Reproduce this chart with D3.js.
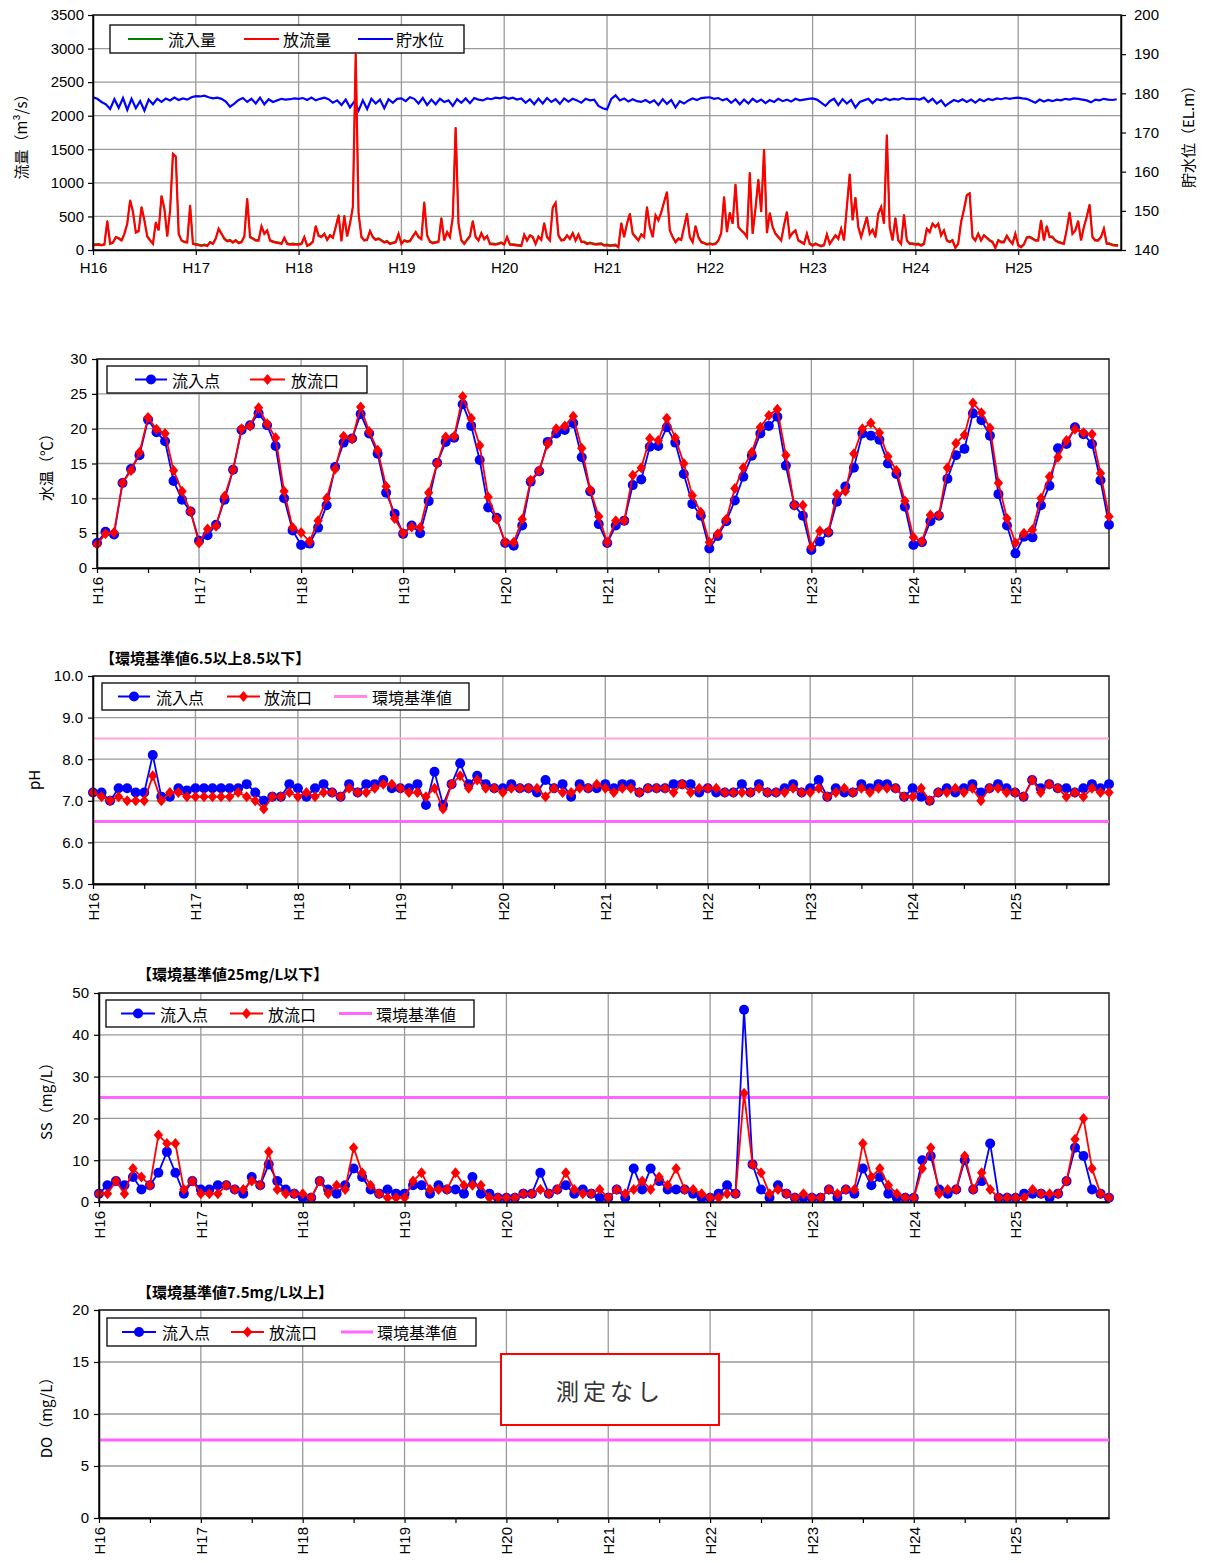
<!DOCTYPE html>
<html>
<head>
<meta charset="utf-8">
<script src="https://cdn.jsdelivr.net/npm/d3@7"></script>
<style>
body { margin: 0; background: #fff; }
</style>
</head>
<body>
<svg id="chart" width="1211" height="1563"></svg>
<script>
var NUM = '"Liberation Sans", Arial, sans-serif';
var JP = '"Noto Sans CJK JP", "Noto Sans CJK SC", sans-serif';

var years = ["H16", "H17", "H18", "H19", "H20", "H21", "H22", "H23", "H24", "H25"];

// daily flow at ~10 day steps (36 per year)
var outflow = [
  70,75,80,70,80,430,90,110,190,170,140,240,390,740,565,260,280,640,440,200,140,90,410,290,805,615,200,590,1430,1390,240,140,115,110,665,90,
  80,70,60,70,60,110,90,170,315,240,165,130,140,110,140,100,115,200,765,190,165,140,140,350,240,290,140,120,110,100,90,180,90,80,85,80,
  80,90,190,60,80,120,355,210,190,240,150,215,180,340,515,130,510,200,390,640,2920,540,190,140,150,280,190,150,165,140,110,125,90,100,115,240,
  90,140,120,130,200,265,190,160,710,215,120,100,110,120,475,140,265,190,490,1825,390,140,90,150,200,430,190,140,250,160,205,90,85,80,90,105,
  80,190,80,75,70,65,60,225,140,215,190,90,200,150,400,190,140,630,700,215,140,150,215,165,250,140,230,120,115,90,100,90,80,85,90,65,
  70,60,65,70,40,400,190,390,540,240,190,140,230,190,640,340,190,515,440,560,715,865,290,190,115,165,150,340,540,190,115,355,190,115,100,80,
  90,80,90,140,250,790,265,555,390,980,340,290,250,190,1155,240,615,1050,565,1500,250,550,340,240,190,140,365,565,190,250,290,140,115,90,240,90,
  65,90,70,55,70,230,90,150,215,165,315,140,640,1130,440,780,340,190,340,490,240,300,190,540,640,390,1715,340,140,475,140,90,525,140,90,90,
  80,85,65,90,315,265,390,340,390,215,290,140,115,140,30,90,415,600,815,840,190,140,240,140,215,180,140,115,30,140,115,115,210,140,90,240,
  70,40,80,180,190,165,140,140,440,140,355,190,190,140,115,100,90,300,560,240,290,430,140,340,490,675,190,140,140,190,315,90,90,70,65,65
];
var inflow = [
  85,90,95,80,95,440,105,120,200,185,155,250,400,750,570,275,290,650,450,215,155,105,420,300,815,620,215,600,1440,1400,255,150,130,125,675,105,
  95,85,75,85,75,125,105,180,325,250,180,145,155,125,155,115,130,215,775,205,180,155,155,360,250,300,155,135,125,115,105,190,105,95,100,95,
  95,105,200,75,95,135,365,225,205,250,165,230,195,350,530,145,520,215,400,650,2925,550,205,155,165,290,205,165,180,155,125,140,105,115,130,250,
  105,150,135,145,215,275,205,175,720,230,135,115,125,135,485,155,275,205,500,1830,400,155,105,165,215,440,205,155,260,175,215,105,100,95,105,120,
  95,200,95,90,85,80,75,235,155,225,205,105,210,165,410,205,155,640,710,230,155,165,225,180,260,155,240,135,130,105,115,105,95,100,105,80,
  85,75,80,85,55,410,205,400,550,255,205,155,240,205,650,350,205,525,450,570,725,870,300,205,130,180,165,350,550,205,130,365,205,130,115,95,
  105,95,105,155,260,800,280,565,400,985,355,300,265,205,1160,255,625,1060,575,1505,265,560,355,255,205,155,375,575,205,265,300,155,130,105,250,105,
  80,105,85,70,85,240,105,165,230,180,325,155,650,1140,450,790,355,205,350,500,255,310,205,550,650,400,1720,355,155,485,155,105,535,155,105,105,
  95,100,80,105,325,280,400,355,400,230,300,155,130,155,45,105,425,610,825,850,205,155,250,155,230,195,155,130,45,155,130,130,220,155,105,250,
  85,55,95,195,205,180,155,155,450,155,365,205,205,155,130,115,105,310,570,255,300,440,155,350,500,685,205,155,155,205,325,105,105,85,80,80
];
// reservoir level (EL.m), 24 per year
var waterLevel = [
  179.0,178.6,177.8,177.2,176.0,178.5,176.3,178.8,175.8,178.6,176.2,178.0,175.6,178.4,177.2,178.6,177.8,178.7,178.2,178.9,178.3,178.7,178.4,179.0,
  179.3,179.2,179.4,179.0,178.7,178.9,178.6,177.9,176.6,177.4,178.3,178.8,177.8,178.6,177.4,178.9,177.2,178.5,177.8,178.2,178.6,178.4,178.5,178.7,
  178.6,178.8,178.3,178.9,178.2,178.6,178.9,178.5,177.6,178.2,177.0,178.4,176.4,177.9,175.6,178.2,176.0,178.6,177.4,178.4,176.2,178.5,177.6,178.6,
  178.7,178.0,179.0,178.6,177.4,178.8,177.0,178.4,177.2,178.6,177.8,178.2,176.8,178.5,177.6,178.7,177.5,178.8,178.4,178.2,178.7,178.5,178.9,178.7,
  179.0,178.6,178.9,178.4,178.7,177.6,178.5,177.2,178.6,177.4,178.8,177.8,178.5,177.3,178.7,177.9,178.6,178.2,177.6,178.6,178.2,178.4,176.8,176.2,
  175.9,178.6,179.5,178.2,178.7,177.9,178.5,178.0,177.8,178.3,177.6,178.2,177.0,178.5,177.3,178.3,176.4,178.0,177.4,178.2,178.7,178.3,178.8,178.9,
  179.0,178.6,178.8,178.2,178.6,177.6,178.5,177.2,178.4,177.4,178.6,177.8,178.4,177.5,178.3,177.8,178.6,178.0,178.4,177.9,178.6,178.2,178.4,178.6,
  178.7,178.4,177.6,176.8,178.0,178.6,177.0,178.5,177.4,178.3,176.4,177.8,178.2,178.6,177.5,178.5,178.2,178.7,178.3,178.6,178.4,178.8,178.5,178.6,
  178.6,178.4,178.9,177.8,178.6,177.4,178.2,176.8,177.6,178.3,177.9,178.5,177.8,178.4,177.6,178.5,178.0,178.6,178.3,178.7,178.5,178.8,178.6,178.8,
  178.9,178.7,178.6,178.1,177.6,178.4,177.9,178.3,178.0,178.4,178.2,178.6,178.4,178.7,178.6,178.4,178.2,177.7,178.4,178.2,178.6,178.4,178.3,178.5
];

// monthly water quality, 12 per year
var tempIn = [
  3.6,5.2,4.8,12.2,14.2,16.2,21.3,19.5,18.2,12.5,9.8,8.1,
  3.9,4.7,6.2,9.8,14.1,19.8,20.5,22.2,20.5,17.5,10.0,5.4,
  3.3,3.5,5.8,9.0,14.5,18.0,18.6,22.1,19.3,16.4,10.8,7.8,
  4.9,6.1,5.0,9.6,15.1,18.1,18.7,23.5,20.4,15.5,8.7,7.2,
  3.6,3.2,6.1,12.4,13.9,18.1,19.3,19.8,20.8,15.9,11.0,6.3,
  3.6,6.1,6.8,11.9,12.7,17.4,17.5,20.2,18.0,13.5,9.2,7.5,
  2.8,4.6,6.7,9.7,13.1,16.1,19.3,20.4,21.7,14.7,9.0,7.5,
  2.6,3.8,5.1,9.5,11.7,14.4,19.3,19.0,18.4,15.0,13.5,8.8,
  3.3,3.7,6.7,7.5,12.8,16.2,17.1,22.2,21.2,19.0,10.6,6.1,
  2.1,4.5,4.4,9.0,11.8,17.2,17.8,20.2,19.2,17.8,12.6,6.2
];
var tempOut = [
  3.4,4.9,5.1,12.2,14.0,16.6,21.6,19.9,19.3,14.0,11.0,8.1,
  3.6,5.6,6.0,10.3,14.1,20.0,20.4,23.0,20.7,18.7,11.0,5.8,
  5.1,3.8,6.8,10.0,14.2,18.9,18.5,23.1,19.6,16.9,11.7,7.1,
  5.0,5.9,5.8,10.8,15.0,18.8,18.9,24.6,21.5,17.6,10.2,7.0,
  3.7,3.7,7.0,12.6,14.0,17.8,20.0,20.4,21.8,17.2,11.2,7.4,
  3.7,6.8,6.8,13.3,14.4,18.6,18.3,21.5,18.7,15.0,10.4,8.0,
  3.7,4.9,7.0,11.4,14.4,16.6,20.2,21.9,22.8,16.2,9.0,9.0,
  3.0,5.3,5.2,10.6,11.0,16.4,20.0,20.8,19.4,16.0,14.0,9.6,
  4.4,3.8,7.6,7.6,14.4,17.9,19.1,23.7,22.3,20.1,12.2,7.1,
  3.6,5.0,5.5,10.0,13.1,15.9,18.3,19.9,19.4,19.2,13.6,7.4
];
var phIn = [
  7.2,7.2,7.0,7.3,7.3,7.2,7.2,8.1,7.1,7.1,7.3,7.25,
  7.3,7.3,7.3,7.3,7.3,7.3,7.4,7.2,7.0,7.1,7.1,7.4,
  7.3,7.1,7.3,7.4,7.2,7.1,7.4,7.2,7.4,7.4,7.5,7.3,
  7.3,7.3,7.4,6.9,7.7,6.9,7.4,7.9,7.4,7.6,7.4,7.3,
  7.3,7.4,7.3,7.3,7.2,7.5,7.3,7.4,7.1,7.4,7.3,7.3,
  7.4,7.3,7.4,7.4,7.2,7.3,7.3,7.3,7.4,7.4,7.4,7.2,
  7.3,7.2,7.2,7.2,7.4,7.2,7.4,7.2,7.2,7.3,7.4,7.2,
  7.3,7.5,7.1,7.3,7.2,7.2,7.4,7.3,7.4,7.4,7.3,7.1,
  7.3,7.1,7.0,7.2,7.3,7.2,7.3,7.4,7.2,7.3,7.4,7.3,
  7.2,7.1,7.5,7.3,7.4,7.3,7.3,7.2,7.3,7.4,7.3,7.4
];
var phOut = [
  7.2,7.1,7.0,7.1,7.0,7.0,7.0,7.6,7.0,7.2,7.2,7.1,
  7.1,7.1,7.1,7.1,7.1,7.2,7.1,7.0,6.8,7.1,7.1,7.2,
  7.1,7.2,7.1,7.2,7.2,7.1,7.3,7.2,7.2,7.3,7.4,7.4,
  7.3,7.2,7.2,7.1,7.3,6.8,7.4,7.6,7.3,7.5,7.3,7.3,
  7.2,7.3,7.3,7.3,7.3,7.1,7.3,7.2,7.2,7.3,7.3,7.4,
  7.3,7.2,7.3,7.3,7.2,7.3,7.3,7.3,7.2,7.4,7.2,7.3,
  7.3,7.3,7.2,7.2,7.2,7.2,7.3,7.2,7.2,7.2,7.3,7.2,
  7.2,7.3,7.1,7.2,7.3,7.2,7.3,7.2,7.3,7.3,7.3,7.1,
  7.1,7.3,7.0,7.2,7.2,7.3,7.2,7.3,7.0,7.3,7.3,7.2,
  7.2,7.1,7.5,7.2,7.4,7.3,7.1,7.2,7.1,7.3,7.2,7.2
];
var ssIn = [
  2,4,5,4,6,3,4,7,12,7,2,5,
  3,3,4,4,3,2,6,4,9,5,3,2,
  1,1,5,3,2,4,8,6,3,2,3,2,
  2,4,4,2,4,3,3,2,6,2,2,1,
  1,1,2,2,7,2,3,4,2,3,2,1,
  1,3,1,8,3,8,5,3,3,3,2,1,
  1,2,4,2,46,9,3,1,4,2,1,1,
  1,1,3,1,3,2,8,4,6,2,1,1,
  1,10,11,3,2,3,10,3,5,14,1,1,
  1,2,2,2,1,2,5,13,11,3,2,1
];
var ssOut = [
  2,2,5,2,8,6,4,16,14,14,3,5,
  2,2,2,4,3,3,5,4,12,3,2,2,
  2,1,5,2,4,3,13,7,4,2,1,1,
  1,5,7,3,3,3,7,4,4,4,1,1,
  1,1,2,2,3,2,3,7,3,2,2,3,
  1,3,2,3,5,3,6,4,8,3,3,2,
  1,1,2,2,26,9,7,2,3,2,1,2,
  1,1,3,2,3,3,14,6,8,4,2,1,
  1,8,13,2,3,3,11,3,7,3,1,1,
  1,1,3,2,2,2,5,15,20,8,2,1
];

var flowTicks = [0, 500, 1000, 1500, 2000, 2500, 3000, 3500];
var levelTicks = [140, 150, 160, 170, 180, 190, 200];
var tempTicks = [0, 5, 10, 15, 20, 25, 30];
var phTicks = [5, 6, 7, 8, 9, 10];
var ssTicks = [0, 10, 20, 30, 40, 50];
var doTicks = [0, 5, 10, 15, 20];
var phStd = [8.5, 6.5];
var ssStd = [25];
var doStd = [7.5];

var svg = d3.select("#chart");

function hGrid(g, vals, y, p) {
  g.selectAll(null).data(vals).enter().append("line")
    .attr("x1", p.left).attr("x2", p.right)
    .attr("y1", function(d) { return y(d); }).attr("y2", function(d) { return y(d); })
    .attr("stroke", "#9a9a9a").attr("stroke-width", 1.3);
}
function vGrid(g, vals, x, p) {
  g.selectAll(null).data(vals).enter().append("line")
    .attr("x1", function(d) { return x(d); }).attr("x2", function(d) { return x(d); })
    .attr("y1", p.top).attr("y2", p.bottom)
    .attr("stroke", "#9a9a9a").attr("stroke-width", 1.3);
}
function frame(g, p) {
  g.append("rect").attr("x", p.left).attr("y", p.top)
    .attr("width", p.right - p.left).attr("height", p.bottom - p.top)
    .attr("fill", "none").attr("stroke", "#222").attr("stroke-width", 1.5);
}
function styleAxis(a) {
  a.selectAll("text").attr("font-family", NUM).attr("font-size", 15).attr("fill", "#000");
  a.select(".domain").attr("stroke", "#000").attr("stroke-width", 1.5);
  a.selectAll(".tick line").attr("stroke", "#000").attr("stroke-width", 1.2);
}
function yTitle(x, y, txt) {
  svg.append("text").attr("transform", "translate(" + x + "," + y + ") rotate(-90)")
    .attr("text-anchor", "middle").attr("dominant-baseline", "central")
    .attr("font-family", JP).attr("font-size", 15).attr("fill", "#000").text(txt);
}
function diamond(r) {
  return "M0," + (-r) + "L" + (r * 0.85) + ",0L0," + r + "L" + (-r * 0.85) + ",0Z";
}
function legendBox(b) {
  var g = svg.append("g");
  g.append("rect").attr("x", b.x).attr("y", b.y).attr("width", b.w).attr("height", b.h)
    .attr("fill", "#fff").attr("stroke", "#000").attr("stroke-width", 1.3);
  var cy = b.y + b.h / 2;
  b.items.forEach(function(it) {
    g.append("line").attr("x1", it.x1).attr("x2", it.x2).attr("y1", cy).attr("y2", cy)
      .attr("stroke", it.color).attr("stroke-width", it.width || 2);
    var mx = (it.x1 + it.x2) / 2;
    if (it.mark === "circle") {
      g.append("circle").attr("cx", mx).attr("cy", cy).attr("r", 5).attr("fill", it.color);
    } else if (it.mark === "diamond") {
      g.append("path").attr("d", diamond(5.5)).attr("transform", "translate(" + mx + "," + cy + ")").attr("fill", it.color);
    }
    g.append("text").attr("x", it.tx).attr("y", cy).attr("dominant-baseline", "central")
      .attr("font-family", JP).attr("font-size", 16).attr("fill", "#000").text(it.label);
  });
}

// ---------- flow panel ----------
(function() {
  var p = {left: 93, right: 1121, top: 15, bottom: 250};
  var x = d3.scaleLinear().domain([0, 10]).range([p.left, p.right]);
  var y = d3.scaleLinear().domain([0, 3500]).range([p.bottom, p.top]);
  var y2 = d3.scaleLinear().domain([140, 200]).range([p.bottom, p.top]);
  var g = svg.append("g");
  hGrid(g, flowTicks, y, p);
  vGrid(g, years.map(function(d, i) { return i; }), x, p);
  frame(g, p);

  var lvl = d3.line().x(function(d, i) { return x(i / 24); }).y(function(d) { return y2(d); });
  g.append("path").datum(waterLevel).attr("d", lvl).attr("fill", "none").attr("stroke", "#0000ff").attr("stroke-width", 2.2);
  var fl = d3.line().x(function(d, i) { return x(i / 36); }).y(function(d) { return y(d); });
  g.append("path").datum(inflow).attr("d", fl).attr("fill", "none").attr("stroke", "#008000").attr("stroke-width", 1.4);
  g.append("path").datum(outflow).attr("d", fl).attr("fill", "none").attr("stroke", "#ff0000").attr("stroke-width", 2.2);

  var ax = svg.append("g").attr("transform", "translate(" + p.left + ",0)")
    .call(d3.axisLeft(y).tickValues(flowTicks).tickSize(5).tickPadding(4).tickSizeOuter(0).tickFormat(d3.format("d")));
  styleAxis(ax);
  var ar = svg.append("g").attr("transform", "translate(" + p.right + ",0)")
    .call(d3.axisRight(y2).tickValues(levelTicks).tickSize(5).tickPadding(8).tickSizeOuter(0).tickFormat(d3.format("d")));
  styleAxis(ar);
  var xb = svg.append("g").attr("transform", "translate(0," + p.bottom + ")")
    .call(d3.axisBottom(x).tickValues(years.map(function(d, i) { return i; })).tickSize(5).tickPadding(7).tickSizeOuter(0)
      .tickFormat(function(d) { return years[d]; }));
  styleAxis(xb);

  yTitle(20, 133, "流量（m³/s）");
  yTitle(1187, 133, "貯水位（EL.m）");

  legendBox({x: 110, y: 25, w: 354, h: 28, items: [
    {x1: 128, x2: 163, tx: 168, color: "#008000", label: "流入量"},
    {x1: 244, x2: 279, tx: 283, color: "#ff0000", label: "放流量"},
    {x1: 358, x2: 393, tx: 396, color: "#0000ff", label: "貯水位"}
  ]});
})();

// ---------- monthly panels ----------
function monthlyPanel(c) {
  var p = c.p;
  var x = d3.scaleLinear().domain([0, 119]).range([p.left, p.right]);
  var y = d3.scaleLinear().domain(c.domain).range([p.bottom, p.top]);
  var yearIdx = years.map(function(d, i) { return i * 12; });
  var halfIdx = years.map(function(d, i) { return i * 12 + 6; });
  var g = svg.append("g");
  hGrid(g, c.ticks, y, p);
  vGrid(g, yearIdx, x, p);
  frame(g, p);

  (c.std || []).forEach(function(v, k) {
    g.append("line").attr("x1", p.left).attr("x2", p.right).attr("y1", y(v)).attr("y2", y(v))
      .attr("stroke", c.stdColors[k]).attr("stroke-width", c.stdWidths[k]);
  });

  var line = d3.line().x(function(d, i) { return x(i); }).y(function(d) { return y(d); });
  if (c.inData) {
    g.append("path").datum(c.inData).attr("d", line).attr("fill", "none").attr("stroke", "#0000ff").attr("stroke-width", 1.8);
    g.selectAll(null).data(c.inData).enter().append("circle")
      .attr("cx", function(d, i) { return x(i); }).attr("cy", function(d) { return y(d); })
      .attr("r", 5).attr("fill", "#0000ff");
  }
  if (c.outData) {
    g.append("path").datum(c.outData).attr("d", line).attr("fill", "none").attr("stroke", "#ff0000").attr("stroke-width", 1.8);
    g.selectAll(null).data(c.outData).enter().append("path")
      .attr("d", diamond(5.5))
      .attr("transform", function(d, i) { return "translate(" + x(i) + "," + y(d) + ")"; })
      .attr("fill", "#ff0000");
  }

  var ay = svg.append("g").attr("transform", "translate(" + p.left + ",0)")
    .call(d3.axisLeft(y).tickValues(c.ticks).tickSize(5).tickPadding(5).tickSizeOuter(0).tickFormat(c.fmt));
  styleAxis(ay);
  var ah = svg.append("g").attr("transform", "translate(0," + p.bottom + ")")
    .call(d3.axisBottom(x).tickValues(halfIdx).tickSize(5).tickSizeOuter(0).tickFormat(""));
  styleAxis(ah);
  var axb = svg.append("g").attr("transform", "translate(0," + p.bottom + ")")
    .call(d3.axisBottom(x).tickValues(yearIdx).tickSize(5).tickSizeOuter(0)
      .tickFormat(function(d) { return years[d / 12]; }));
  styleAxis(axb);
  axb.selectAll("text").attr("transform", "rotate(-90)").attr("text-anchor", "end")
    .attr("x", -9).attr("y", 0).attr("dy", "0.35em");

  yTitle(c.titleX, (p.top + p.bottom) / 2, c.yLabel);
  if (c.header) {
    svg.append("text").attr("x", c.header.x).attr("y", c.header.y).attr("dominant-baseline", "central")
      .attr("font-family", JP).attr("font-weight", "bold").attr("font-size", 15).attr("fill", "#000")
      .text(c.header.text);
  }
  legendBox(c.legend);
}

monthlyPanel({
  p: {left: 97, right: 1109, top: 359, bottom: 568},
  domain: [0, 30], ticks: tempTicks, fmt: d3.format("d"),
  inData: tempIn, outData: tempOut,
  titleX: 45, yLabel: "水温（℃）",
  legend: {x: 107, y: 366, w: 260, h: 27, items: [
    {x1: 135, x2: 167, tx: 172, color: "#0000ff", mark: "circle", label: "流入点"},
    {x1: 250, x2: 285, tx: 291, color: "#ff0000", mark: "diamond", label: "放流口"}
  ]}
});

monthlyPanel({
  p: {left: 93, right: 1109, top: 676, bottom: 884},
  domain: [5, 10], ticks: phTicks, fmt: d3.format(".1f"),
  std: phStd, stdColors: ["#ffa8d8", "#ff66ff"], stdWidths: [2, 3],
  inData: phIn, outData: phOut,
  titleX: 33, yLabel: "pH",
  header: {x: 100, y: 657, text: "【環境基準値6.5以上8.5以下】"},
  legend: {x: 102, y: 683, w: 367, h: 27, items: [
    {x1: 118, x2: 150, tx: 156, color: "#0000ff", mark: "circle", label: "流入点"},
    {x1: 227, x2: 260, tx: 264, color: "#ff0000", mark: "diamond", label: "放流口"},
    {x1: 334, x2: 367, tx: 372, color: "#ff88e8", width: 3, label: "環境基準値"}
  ]}
});

monthlyPanel({
  p: {left: 99, right: 1109, top: 993, bottom: 1202},
  domain: [0, 50], ticks: ssTicks, fmt: d3.format("d"),
  std: ssStd, stdColors: ["#ff66ff"], stdWidths: [3],
  inData: ssIn, outData: ssOut,
  titleX: 45, yLabel: "SS（mg/L）",
  header: {x: 137, y: 973, text: "【環境基準値25mg/L以下】"},
  legend: {x: 106, y: 1000, w: 368, h: 27, items: [
    {x1: 121, x2: 155, tx: 160, color: "#0000ff", mark: "circle", label: "流入点"},
    {x1: 230, x2: 263, tx: 268, color: "#ff0000", mark: "diamond", label: "放流口"},
    {x1: 339, x2: 372, tx: 376, color: "#ff66ff", width: 3, label: "環境基準値"}
  ]}
});

monthlyPanel({
  p: {left: 99, right: 1109, top: 1310, bottom: 1518},
  domain: [0, 20], ticks: doTicks, fmt: d3.format("d"),
  std: doStd, stdColors: ["#ff66ff"], stdWidths: [3],
  titleX: 45, yLabel: "DO（mg/L）",
  header: {x: 137, y: 1291, text: "【環境基準値7.5mg/L以上】"},
  legend: {x: 107, y: 1318, w: 369, h: 28, items: [
    {x1: 122, x2: 156, tx: 162, color: "#0000ff", mark: "circle", label: "流入点"},
    {x1: 231, x2: 264, tx: 269, color: "#ff0000", mark: "diamond", label: "放流口"},
    {x1: 341, x2: 373, tx: 377, color: "#ff66ff", width: 3, label: "環境基準値"}
  ]}
});

// "no measurement" note on the DO panel
svg.append("rect").attr("x", 501).attr("y", 1354).attr("width", 218).attr("height", 71)
  .attr("fill", "#fff").attr("stroke", "#ff0000").attr("stroke-width", 2);
svg.append("text").attr("x", 610).attr("y", 1390).attr("text-anchor", "middle").attr("dominant-baseline", "central")
  .attr("font-family", JP).attr("font-size", 23).attr("letter-spacing", 4).attr("fill", "#333").text("測定なし");
</script>
</body>
</html>
